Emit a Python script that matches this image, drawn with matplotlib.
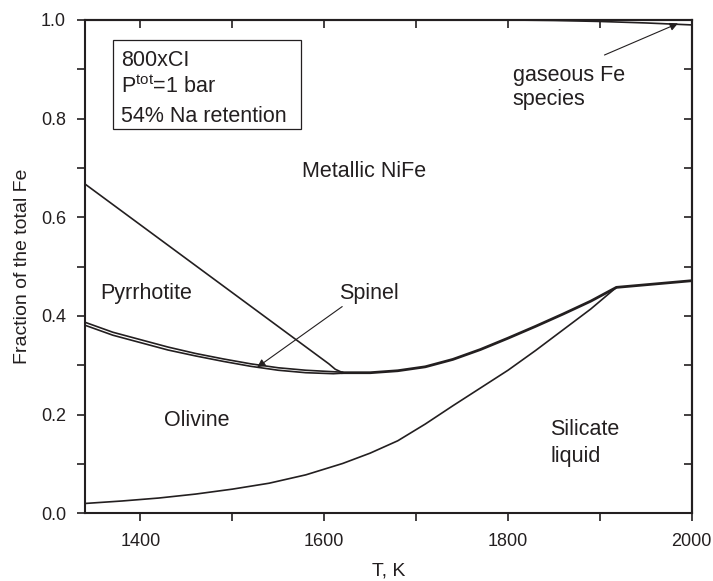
import matplotlib
matplotlib.use("Agg")
import matplotlib.pyplot as plt
from matplotlib.patches import Rectangle
from matplotlib.ticker import MultipleLocator, FormatStrFormatter

plt.rcParams['font.family'] = ['Liberation Sans', 'DejaVu Sans']
plt.rcParams['mathtext.fontset'] = 'custom'
plt.rcParams['mathtext.rm'] = 'Liberation Sans'

INK = '#231f20'

# boundary between pyrrhotite and metallic NiFe
t_pyrr = [1340, 1605, 1612, 1619]
f_pyrr = [0.667, 0.303, 0.292, 0.286]

# spinel band (two close curves), left part
t_spinel = [1340, 1370, 1400, 1430, 1460, 1490, 1520, 1550, 1580, 1610, 1620]
f_spinel_hi = [0.387, 0.367, 0.352, 0.337, 0.324, 0.313, 0.303, 0.295, 0.290, 0.287, 0.286]
f_spinel_lo = [0.381, 0.361, 0.346, 0.331, 0.319, 0.308, 0.298, 0.290, 0.285, 0.283, 0.284]

# boundary to metal on the right
t_metal = [1620, 1650, 1680, 1710, 1740, 1770, 1800, 1830, 1860, 1890, 1918, 2000]
f_metal = [0.285, 0.285, 0.289, 0.297, 0.312, 0.332, 0.355, 0.379, 0.404, 0.430, 0.458, 0.4715]

# silicate liquid boundary
t_liq = [1340, 1380, 1420, 1460, 1500, 1540, 1580, 1620, 1650, 1680, 1710, 1740,
         1770, 1800, 1830, 1860, 1890, 1918]
f_liq = [0.020, 0.025, 0.031, 0.039, 0.049, 0.061, 0.078, 0.101, 0.122, 0.147, 0.181, 0.218,
         0.254, 0.290, 0.330, 0.372, 0.414, 0.458]

# gaseous Fe boundary near the top
t_gas = [1340, 1800, 1850, 1900, 1950, 2000]
f_gas = [1.0, 1.0, 0.999, 0.997, 0.994, 0.990]

fig = plt.figure(figsize=(7.13, 5.81), dpi=100)
ax = fig.add_axes([0.1197, 0.1165, 0.8505, 0.8491])

ax.plot(t_pyrr, f_pyrr, color=INK, lw=1.2)
ax.plot(t_spinel, f_spinel_hi, color=INK, lw=1.2)
ax.plot(t_spinel, f_spinel_lo, color=INK, lw=1.2)
ax.plot(t_metal, f_metal, color=INK, lw=2.0)
ax.plot(t_liq, f_liq, color=INK, lw=1.2)
ax.plot(t_gas, f_gas, color=INK, lw=1.2)

ax.set_xlim(1340, 2000)
ax.set_ylim(0, 1.0)
ax.xaxis.set_major_locator(MultipleLocator(200))
ax.xaxis.set_minor_locator(MultipleLocator(100))
ax.yaxis.set_major_locator(MultipleLocator(0.2))
ax.yaxis.set_minor_locator(MultipleLocator(0.1))
ax.yaxis.set_major_formatter(FormatStrFormatter('%.1f'))
ax.tick_params(which='both', direction='out', length=6, width=1.2, colors=INK,
               labelsize=13, pad=8, top=False, right=False)

top = ax.secondary_xaxis('top')
top.xaxis.set_major_locator(MultipleLocator(100))
top.tick_params(direction='in', length=6, width=1.2, colors=INK, labeltop=False)
right = ax.secondary_yaxis('right')
right.yaxis.set_major_locator(MultipleLocator(0.1))
right.tick_params(direction='in', length=6, width=1.2, colors=INK, labelright=False)
for a in (ax, top, right):
    for s in a.spines.values():
        s.set_linewidth(1.5)
        s.set_color(INK)

ax.set_xlabel('T, K', fontsize=14, color=INK, labelpad=9)
ax.set_ylabel('Fraction of the total Fe', fontsize=14, color=INK, labelpad=7)

# info box
ax.add_patch(Rectangle((0.045, 0.780), 0.311, 0.179, transform=ax.transAxes,
                       fill=False, lw=0.9, edgecolor=INK))
box_lines = ['800xCI', 'P$^{\\mathregular{tot}}$=1 bar', '54% Na retention']
box_y = [0.9074, 0.8514, 0.7938]
for s, y in zip(box_lines, box_y):
    ax.text(0.0584, y, s, transform=ax.transAxes, fontsize=15.5, color=INK,
            ha='left', va='baseline')

labels = ['Metallic NiFe', 'Pyrrhotite', 'Olivine', 'Silicate', 'liquid', 'gaseous Fe', 'species']
label_t = [1576, 1356, 1426, 1846, 1846, 1805, 1805]
label_f = [0.692, 0.446, 0.189, 0.169, 0.115, 0.888, 0.838]
for s, x, y in zip(labels, label_t, label_f):
    ax.text(x, y, s, fontsize=15.5, color=INK, ha='left', va='center')

ax.annotate('Spinel', xy=(1527, 0.296), xytext=(1616, 0.446), fontsize=15.5, color=INK,
            ha='left', va='center',
            arrowprops=dict(arrowstyle='-|>', color=INK, lw=0.8, mutation_scale=12,
                            shrinkA=0, shrinkB=0, relpos=(0.12, 0.0)))
ax.annotate('', xy=(1985, 0.993), xytext=(1905, 0.929),
            arrowprops=dict(arrowstyle='-|>', color=INK, lw=0.8, mutation_scale=12,
                            shrinkA=0, shrinkB=0))

fig.savefig('out.png', dpi=100)
